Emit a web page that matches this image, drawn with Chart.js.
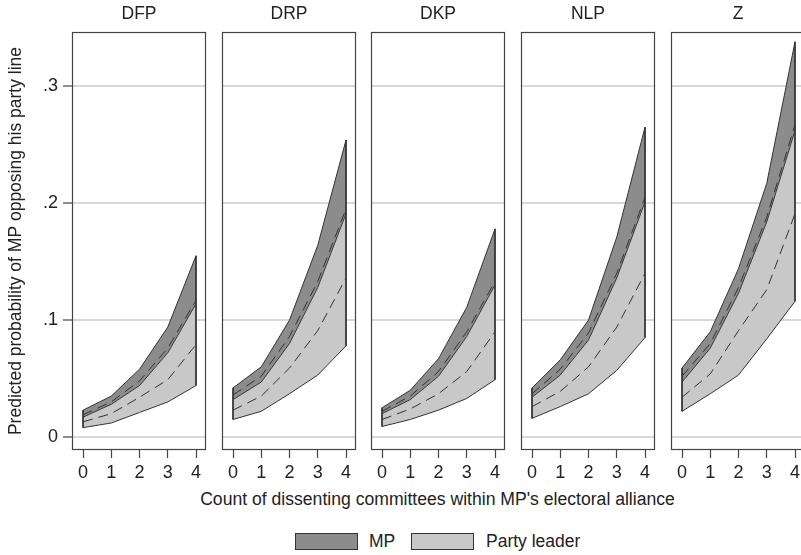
<!DOCTYPE html>
<html>
<head>
<meta charset="utf-8">
<script src="https://cdn.jsdelivr.net/npm/chart.js@4/dist/chart.umd.min.js"></script>
<style>
  body { margin: 0; background: #fff; width: 801px; height: 555px; overflow: hidden; position: relative;
         font-family: "Liberation Sans", Arial, sans-serif; color: #222; }
  canvas { position: absolute; top: 0; }
  .ptitle { position: absolute; top: 3px; width: 134px; text-align: center; font-size: 17.5px; }
  #xtitle { position: absolute; left: 72px; width: 731px; top: 489px; text-align: center; font-size: 17.6px; }
  .lbox { position: absolute; top: 533px; width: 63px; height: 17px; border: 1px solid #333; box-sizing: border-box; }
  .ltxt { position: absolute; top: 531px; font-size: 17.5px; }
</style>
</head>
<body>
<div id="xtitle">Count of dissenting committees within MP's electoral alliance</div>
<div class="lbox" style="left:295px;background:#8c8c8c"></div>
<div class="ltxt" style="left:369px">MP</div>
<div class="lbox" style="left:411px;background:#c8c8c8"></div>
<div class="ltxt" style="left:486px">Party leader</div>

<script>
// data
const parties = ['DFP', 'DRP', 'DKP', 'NLP', 'Z'];
const xVals = [0, 1, 2, 3, 4];
const yTicks = [0, 0.1, 0.2, 0.3];
const yTickLabels = ['0', '.1', '.2', '.3'];

// MP band (upper edge), MP prediction, party leader band and prediction
const mpUpper = [
  [0.023, 0.035, 0.058, 0.094, 0.155],
  [0.042, 0.060, 0.100, 0.164, 0.254],
  [0.025, 0.040, 0.067, 0.111, 0.178],
  [0.042, 0.066, 0.100, 0.171, 0.265],
  [0.059, 0.090, 0.144, 0.217, 0.338]
];
const mpMean = [
  [0.019, 0.030, 0.048, 0.076, 0.117],
  [0.036, 0.052, 0.086, 0.133, 0.195],
  [0.022, 0.035, 0.056, 0.090, 0.133],
  [0.037, 0.058, 0.089, 0.140, 0.205],
  [0.052, 0.080, 0.128, 0.188, 0.267]
];
const plUpper = [
  [0.017, 0.028, 0.044, 0.072, 0.114],
  [0.032, 0.047, 0.080, 0.128, 0.191],
  [0.020, 0.032, 0.052, 0.086, 0.130],
  [0.034, 0.053, 0.083, 0.136, 0.201],
  [0.047, 0.076, 0.123, 0.184, 0.262]
];
const plMean = [
  [0.013, 0.020, 0.034, 0.049, 0.079],
  [0.023, 0.035, 0.059, 0.091, 0.136],
  [0.015, 0.024, 0.037, 0.056, 0.090],
  [0.026, 0.039, 0.060, 0.094, 0.140],
  [0.034, 0.054, 0.091, 0.126, 0.191]
];
const plLower = [
  [0.008, 0.012, 0.021, 0.030, 0.044],
  [0.015, 0.022, 0.037, 0.053, 0.078],
  [0.009, 0.015, 0.023, 0.033, 0.049],
  [0.016, 0.026, 0.037, 0.057, 0.085],
  [0.022, 0.037, 0.053, 0.084, 0.116]
];

const panelLeft = [72, 222, 371, 521, 671];
const panelW = 134;
const MP_COLOR = '#8c8c8c';
const PL_COLOR = '#c8c8c8';
const LINE = '#333';

Chart.defaults.font.family = '"Liberation Sans", Arial, sans-serif';
Chart.defaults.font.size = 17.5;
Chart.defaults.color = '#222';

// box around each plot area
const frame = {
  id: 'frame',
  afterDatasetsDraw(chart) {
    const a = chart.chartArea;
    const c = chart.ctx;
    c.save();
    c.strokeStyle = '#444';
    c.lineWidth = 1.2;
    c.strokeRect(a.left + 0.5, a.top + 0.5, a.right - a.left - 1, a.bottom - a.top - 1);
    c.restore();
  }
};

function pts(arr) {
  return xVals.map((x, i) => ({ x: x, y: arr[i] }));
}

function makePanel(p) {
  const first = p === 0;
  const canvas = document.createElement('canvas');
  const left = first ? 0 : panelLeft[p] - 1;
  const w = first ? panelLeft[0] + panelW + 1 : panelW + 2;
  canvas.width = w;
  canvas.height = 485;
  canvas.style.left = left + 'px';
  document.body.appendChild(canvas);

  const t = document.createElement('div');
  t.className = 'ptitle';
  t.style.left = panelLeft[p] + 'px';
  t.textContent = parties[p];
  document.body.appendChild(t);

  const last = xVals.length - 1;
  const datasets = [
    // MP band, filled down to party leader upper edge
    { data: pts(mpUpper[p]), borderColor: LINE, borderWidth: 1, backgroundColor: MP_COLOR, fill: '+1', order: 6 },
    { data: pts(plUpper[p]), borderColor: LINE, borderWidth: 1, backgroundColor: PL_COLOR, fill: '+1', order: 5 },
    { data: pts(plLower[p]), borderColor: LINE, borderWidth: 1, fill: false, order: 4 },
    // vertical edges of the bands
    { data: [{ x: xVals[0], y: mpUpper[p][0] }, { x: xVals[0], y: plLower[p][0] }], borderColor: LINE, borderWidth: 1, fill: false, order: 3 },
    { data: [{ x: xVals[last], y: mpUpper[p][last] }, { x: xVals[last], y: plLower[p][last] }], borderColor: LINE, borderWidth: 1, fill: false, order: 3 },
    // predictions
    { data: pts(mpMean[p]), borderColor: LINE, borderWidth: 1, borderDash: [10, 6], fill: false, order: 1 },
    { data: pts(plMean[p]), borderColor: LINE, borderWidth: 1, borderDash: [10, 6], fill: false, order: 0 }
  ];

  new Chart(canvas.getContext('2d'), {
    type: 'line',
    data: { datasets: datasets },
    plugins: [frame],
    options: {
      responsive: false,
      animation: false,
      devicePixelRatio: 1,
      layout: { padding: { left: first ? 0 : 1, right: 1, top: 32, bottom: 0 } },
      elements: { point: { radius: 0 }, line: { tension: 0 } },
      plugins: { legend: { display: false }, tooltip: { enabled: false }, title: { display: false } },
      scales: {
        x: {
          type: 'linear',
          min: -0.39,
          max: 4.354,
          afterBuildTicks: (s) => { s.ticks = xVals.map(v => ({ value: v })); },
          afterFit: (s) => { s.height = 35; },
          ticks: { padding: 4, color: '#222', font: { size: 18 }, callback: (v) => String(v) },
          grid: { drawOnChartArea: false, drawTicks: true, tickLength: 8, tickColor: '#444', tickWidth: 1.2 },
          border: { display: false }
        },
        y: {
          type: 'linear',
          min: -0.0111,
          max: 0.3464,
          afterBuildTicks: (s) => { s.ticks = yTicks.map(v => ({ value: v })); },
          afterFit: (s) => { s.width = first ? panelLeft[0] : 0; },
          ticks: {
            display: first,
            padding: 5,
            color: '#222',
            font: { size: 18 },
            callback: (v, i) => yTickLabels[i]
          },
          grid: { color: '#d8d8d8', lineWidth: 2, drawTicks: first, tickLength: 9, tickColor: '#444', tickWidth: 1.2 },
          border: { display: false },
          title: {
            display: first,
            text: 'Predicted probability of MP opposing his party line',
            padding: { top: 6, bottom: 0 },
            color: '#222'
          }
        }
      }
    }
  });
}

parties.forEach((_, p) => makePanel(p));
</script>
</body>
</html>
